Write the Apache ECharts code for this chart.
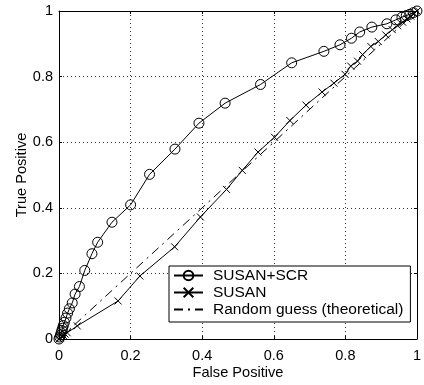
<!DOCTYPE html>
<html>
<head>
<meta charset="utf-8">
<script src="https://cdn.jsdelivr.net/npm/echarts@6/dist/echarts.min.js"></script>
<style>
html,body{margin:0;padding:0;background:#fff;}
#chart{width:424px;height:385px;}
</style>
</head>
<body>
<div id="chart"></div>
<script>
// ---- data ----
const seriesNames = ['SUSAN+SCR', 'SUSAN', 'Random guess (theoretical)'];
const xTickValues = [0, 0.2, 0.4, 0.6, 0.8, 1];
const yTickValues = [0, 0.2, 0.4, 0.6, 0.8, 1];
const axisNames = ['False Positive', 'True Positive'];

const scrFP = [0, 0.002, 0.004, 0.006, 0.008, 0.010, 0.012, 0.015, 0.0195, 0.024, 0.029, 0.037, 0.045, 0.057, 0.072, 0.092, 0.108, 0.148, 0.200, 0.253, 0.324, 0.391, 0.464, 0.563, 0.650, 0.740, 0.785, 0.817, 0.840, 0.874, 0.916, 0.941, 0.958, 0.970, 0.980, 0.990, 1];
const scrTP = [0, 0.006, 0.012, 0.019, 0.026, 0.033, 0.041, 0.051, 0.064, 0.079, 0.092, 0.110, 0.137, 0.160, 0.209, 0.260, 0.295, 0.356, 0.409, 0.502, 0.579, 0.658, 0.719, 0.776, 0.842, 0.877, 0.897, 0.917, 0.936, 0.951, 0.961, 0.973, 0.981, 0.986, 0.990, 0.995, 1];

const susanFP = [0, 0.004, 0.008, 0.012, 0.017, 0.023, 0.051, 0.165, 0.226, 0.323, 0.395, 0.468, 0.512, 0.556, 0.602, 0.645, 0.690, 0.735, 0.768, 0.799, 0.815, 0.834, 0.848, 0.871, 0.892, 0.913, 0.931, 0.946, 0.960, 0.972, 0.983, 0.992, 1];
const susanTP = [0, 0.004, 0.008, 0.011, 0.015, 0.019, 0.040, 0.116, 0.192, 0.281, 0.372, 0.456, 0.514, 0.570, 0.615, 0.666, 0.713, 0.753, 0.780, 0.807, 0.832, 0.847, 0.867, 0.892, 0.907, 0.927, 0.943, 0.955, 0.966, 0.976, 0.984, 0.992, 1];

const randomFP = [0, 1];
const randomTP = [0, 1];

// ---- build ----
const zip = (a, b) => a.map((v, i) => [v, b[i]]);
const FONT = '"Liberation Sans", Arial, Helvetica, sans-serif';
const xMark = 'path://M0,0L10,10M10,0L0,10';

const chart = echarts.init(document.getElementById('chart'), null, {renderer: 'canvas'});

const baseAxis = {
  type: 'value', min: 0, max: 1, interval: 0.2,
  axisLine: {show: true, onZero: false, lineStyle: {color: '#000', width: 1}},
  axisTick: {show: true, inside: true, length: 3, lineStyle: {color: '#000'}},
  splitLine: {show: false}
};
const fmt = ticks => v => ticks.includes(+v.toFixed(1)) ? String(+v.toFixed(1)) : '';

chart.setOption({
  animation: false,
  backgroundColor: '#fff',
  textStyle: {fontFamily: FONT},
  grid: {left: 59, top: 11, width: 359, height: 331, containLabel: false},
  xAxis: [
    Object.assign({}, baseAxis, {
      position: 'bottom',
      name: axisNames[0], nameLocation: 'middle', nameGap: 26, nameMoveOverlap: false,
      nameTextStyle: {fontSize: 14.6, color: '#000', fontFamily: FONT},
      axisLabel: {show: true, fontSize: 14.5, color: '#000', margin: 9, fontFamily: FONT, formatter: fmt(xTickValues)},
      splitLine: {show: true, lineStyle: {color: '#333', width: 1, type: [1, 3]}}
    }),
    Object.assign({}, baseAxis, {position: 'top', axisLabel: {show: false}})
  ],
  yAxis: [
    Object.assign({}, baseAxis, {
      position: 'left',
      name: axisNames[1], nameLocation: 'middle', nameGap: 30, nameMoveOverlap: false,
      nameTextStyle: {fontSize: 14.6, color: '#000', fontFamily: FONT},
      axisLabel: {show: true, fontSize: 14.5, color: '#000', margin: 6, fontFamily: FONT, formatter: fmt(yTickValues)},
      splitLine: {show: true, lineStyle: {color: '#333', width: 1, type: [1, 3]}}
    }),
    Object.assign({}, baseAxis, {position: 'right', axisLabel: {show: false}})
  ],
  legend: {
    orient: 'vertical',
    left: 169, top: 266,
    padding: [1, 7, 4, 4],
    itemGap: 0,
    itemWidth: 29, itemHeight: 12,
    backgroundColor: '#fff',
    borderColor: '#000', borderWidth: 1, borderRadius: 0,
    textStyle: {fontSize: 15.5, lineHeight: 17, color: '#000', fontFamily: FONT, padding: [0, 0, 0, 5]},
    data: seriesNames
  },
  series: [
    {
      name: seriesNames[0], type: 'line', xAxisIndex: 0, yAxisIndex: 0,
      data: zip(scrFP, scrTP),
      symbol: 'circle', symbolSize: 10, showSymbol: true,
      lineStyle: {color: '#000', width: 1},
      itemStyle: {color: 'rgba(0,0,0,0)', borderColor: '#000', borderWidth: 1},
      z: 3
    },
    {
      name: seriesNames[1], type: 'line', xAxisIndex: 0, yAxisIndex: 0,
      data: zip(susanFP, susanTP),
      symbol: xMark, symbolSize: 7, showSymbol: true,
      lineStyle: {color: '#000', width: 1},
      itemStyle: {color: 'rgba(0,0,0,0)', borderColor: '#000', borderWidth: 1},
      z: 3
    },
    {
      name: seriesNames[2], type: 'line', xAxisIndex: 0, yAxisIndex: 0,
      data: zip(randomFP, randomTP),
      symbol: 'none', showSymbol: false,
      lineStyle: {color: '#000', width: 1, type: [9, 5, 2, 5]},
      itemStyle: {color: 'rgba(0,0,0,0)', borderColor: 'rgba(0,0,0,0)', borderWidth: 0},
      z: 2
    }
  ]
});
</script>
</body>
</html>
